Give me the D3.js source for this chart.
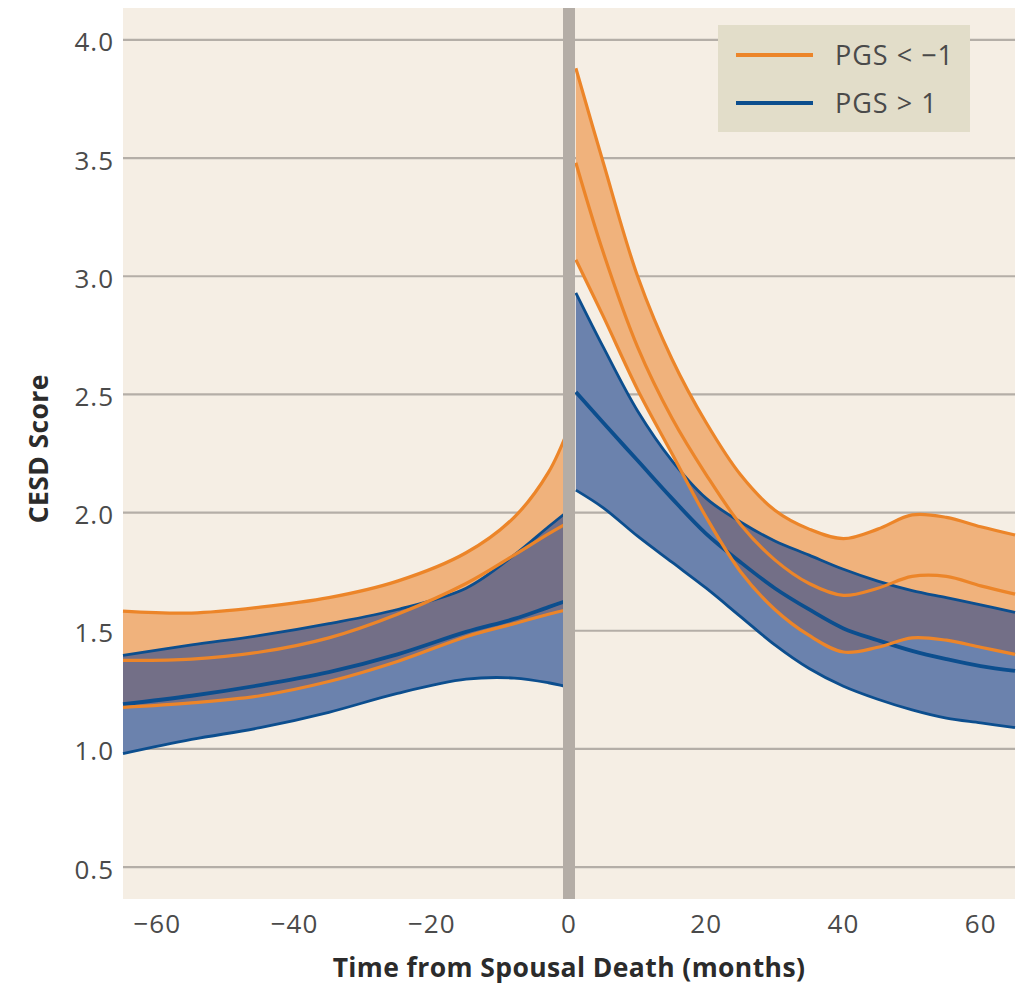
<!DOCTYPE html>
<html lang="en">
<head>
  <meta charset="UTF-8">
  <title>CESD Score by Time from Spousal Death</title>
  <style>
    body { margin: 0; background: #fff; font-family: "Open Sans", Lato, sans-serif; }
    .tick-label { font-size: 26px; fill: #4a4a4a; letter-spacing: 1px; }
    .axis-title { font-size: 26.5px; font-weight: bold; fill: #2b2b2b; letter-spacing: 0.4px; }
    .legend-text { font-size: 27px; fill: #4a4a4a; letter-spacing: 1px; }
  </style>
  <script src="https://d3js.org/d3.v7.min.js"></script>
</head>
<body>
  <svg id="chart" width="1020" height="987"></svg>
  <script>
    // months sampled on each side of the death
    const monthsBefore = [-65, -55, -45, -35, -25, -15, -8, -3, 0];
    const monthsAfter = [1, 5, 10, 15, 20, 25, 30, 35, 40, 45, 50, 55, 60, 65];

    // PGS < -1 (orange)
    const lowMeanBefore  = [1.375, 1.38, 1.41, 1.47, 1.57, 1.70, 1.82, 1.91, 1.96];
    const lowUpperBefore = [1.583, 1.575, 1.60, 1.64, 1.71, 1.83, 1.98, 2.17, 2.36];
    const lowLowerBefore = [1.176, 1.195, 1.225, 1.285, 1.37, 1.475, 1.53, 1.57, 1.59];
    const lowMeanAfter  = [3.48, 3.10, 2.70, 2.40, 2.16, 1.95, 1.80, 1.70, 1.65, 1.68, 1.73, 1.73, 1.69, 1.655];
    const lowUpperAfter = [3.88, 3.48, 3.00, 2.65, 2.38, 2.16, 2.01, 1.93, 1.89, 1.93, 1.99, 1.98, 1.94, 1.905];
    const lowLowerAfter = [3.07, 2.83, 2.52, 2.25, 1.98, 1.75, 1.59, 1.48, 1.41, 1.43, 1.47, 1.46, 1.43, 1.40];

    // PGS > 1 (blue)
    const highMeanBefore  = [1.189, 1.225, 1.27, 1.325, 1.40, 1.495, 1.55, 1.60, 1.63];
    const highUpperBefore = [1.396, 1.44, 1.48, 1.53, 1.59, 1.68, 1.82, 1.94, 2.01];
    const highLowerBefore = [0.98, 1.04, 1.09, 1.155, 1.235, 1.295, 1.30, 1.28, 1.26];
    const highMeanAfter  = [2.51, 2.38, 2.22, 2.06, 1.91, 1.79, 1.68, 1.59, 1.51, 1.46, 1.415, 1.38, 1.35, 1.33];
    const highUpperAfter = [2.93, 2.70, 2.43, 2.22, 2.06, 1.96, 1.88, 1.82, 1.76, 1.71, 1.67, 1.64, 1.61, 1.578];
    const highLowerAfter = [2.095, 2.02, 1.90, 1.79, 1.68, 1.56, 1.44, 1.34, 1.265, 1.21, 1.165, 1.13, 1.11, 1.09];

    const yTicks = [0.5, 1.0, 1.5, 2.0, 2.5, 3.0, 3.5, 4.0];
    const xTicks = [-60, -40, -20, 0, 20, 40, 60];
    const legendLabels = ["PGS < \u22121", "PGS > 1"];

    const orange = "#ec8529", blue = "#0c4e8e";
    const orangeFill = "#f0b27c", blueFill = "#6b82ad", overlapFill = "#736f87";

    const svg = d3.select("#chart");
    const x = d3.scaleLinear().domain([-65, 65]).range([123, 1015]);
    const y = d3.scaleLinear().domain([0.365, 4.135]).range([899, 8]);

    svg.append("rect")
      .attr("x", x(-65)).attr("y", y(4.135))
      .attr("width", x(65) - x(-65)).attr("height", y(0.365) - y(4.135))
      .attr("fill", "#f5eee4");

    // gridlines
    svg.append("g").selectAll("line").data(yTicks).join("line")
      .attr("x1", x(-65)).attr("x2", x(65))
      .attr("y1", d => y(d)).attr("y2", d => y(d))
      .attr("stroke", "#b4aea7").attr("stroke-width", 2.2);

    const fmt = d3.format(".1f");
    svg.append("g").selectAll("text").data(yTicks).join("text")
      .attr("class", "tick-label")
      .attr("x", 114).attr("y", d => y(d)).attr("dy", "0.44em")
      .attr("text-anchor", "end").text(d => fmt(d));

    svg.append("g").selectAll("text").data(xTicks).join("text")
      .attr("class", "tick-label")
      .attr("x", d => x(d)).attr("y", 933)
      .attr("text-anchor", "middle").text(d => d < 0 ? "\u2212" + Math.abs(d) : d);

    svg.append("text").attr("class", "axis-title")
      .attr("x", x(0)).attr("y", 977).attr("text-anchor", "middle")
      .text("Time from Spousal Death (months)");

    svg.append("text").attr("class", "axis-title")
      .attr("transform", `translate(48, ${y(2.27)}) rotate(-90)`)
      .attr("text-anchor", "middle").text("CESD Score");

    function rows(months, mean, upper, lower) {
      return months.map((m, i) => ({ m, mean: mean[i], upper: upper[i], lower: lower[i] }));
    }
    const segments = [
      { low: rows(monthsBefore, lowMeanBefore, lowUpperBefore, lowLowerBefore),
        high: rows(monthsBefore, highMeanBefore, highUpperBefore, highLowerBefore) },
      { low: rows(monthsAfter, lowMeanAfter, lowUpperAfter, lowLowerAfter),
        high: rows(monthsAfter, highMeanAfter, highUpperAfter, highLowerAfter) }
    ];

    const curve = d3.curveCatmullRom.alpha(0.5);
    const area = d3.area().x(d => x(d.m)).y0(d => y(d.lower)).y1(d => y(d.upper)).curve(curve);
    const line = key => d3.line().x(d => x(d.m)).y(d => y(d[key])).curve(curve);

    const defs = svg.append("defs");
    segments.forEach((seg, i) => {
      defs.append("clipPath").attr("id", "clip-high-" + i)
        .append("path").attr("d", area(seg.high));

      svg.append("path").attr("d", area(seg.low)).attr("fill", orangeFill);
      svg.append("path").attr("d", area(seg.high)).attr("fill", blueFill);
      svg.append("path").attr("d", area(seg.low)).attr("fill", overlapFill)
        .attr("clip-path", `url(#clip-high-${i})`);

      ["upper", "lower", "mean"].forEach(k => {
        svg.append("path").attr("d", line(k)(seg.high))
          .attr("fill", "none").attr("stroke", blue)
          .attr("stroke-width", k === "mean" ? 3.8 : 2.8);
      });
      ["upper", "lower", "mean"].forEach(k => {
        svg.append("path").attr("d", line(k)(seg.low))
          .attr("fill", "none").attr("stroke", orange).attr("stroke-width", 3.2);
      });
    });

    // vertical marker at time of death
    svg.append("line")
      .attr("x1", x(0)).attr("x2", x(0))
      .attr("y1", y(4.135)).attr("y2", y(0.365))
      .attr("stroke", "#b4ada6").attr("stroke-width", 12);

    // legend
    const legend = svg.append("g");
    legend.append("rect").attr("x", 718).attr("y", 25).attr("width", 252).attr("height", 107)
      .attr("fill", "#e2ddc9");
    legendLabels.forEach((label, i) => {
      const ly = 55 + i * 48;
      legend.append("line").attr("x1", 736).attr("x2", 813).attr("y1", ly).attr("y2", ly)
        .attr("stroke", i === 0 ? orange : blue).attr("stroke-width", 4);
      legend.append("text").attr("class", "legend-text")
        .attr("x", 835).attr("y", ly).attr("dy", "0.38em").text(label);
    });
  </script>
</body>
</html>
